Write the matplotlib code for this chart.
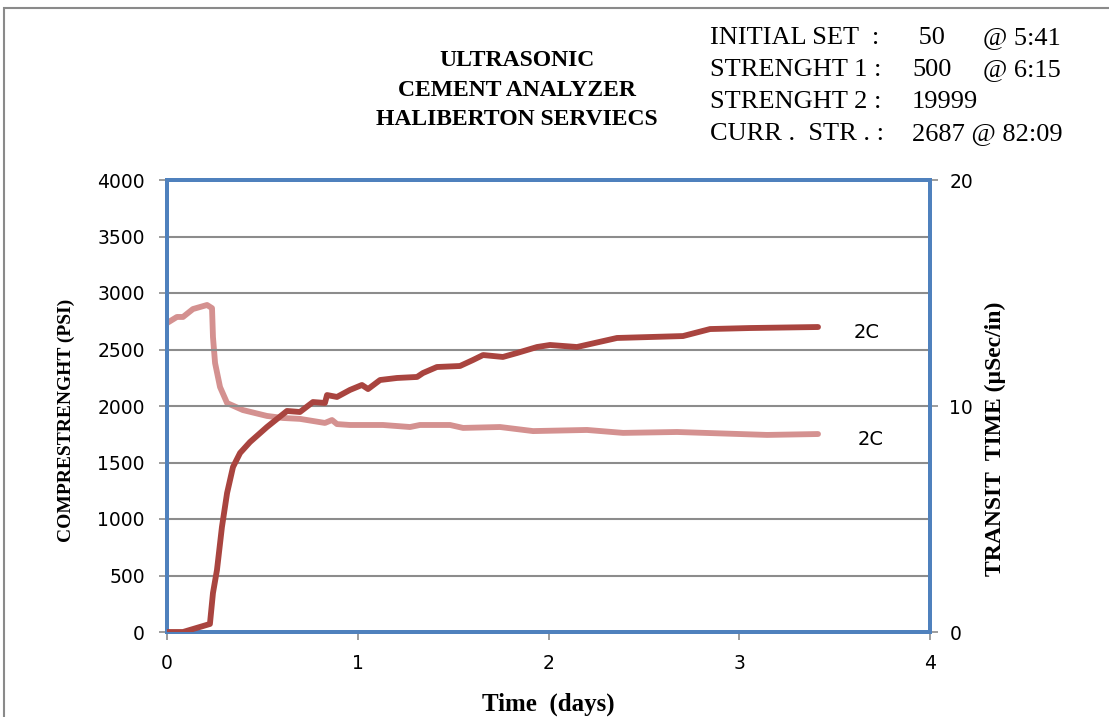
import matplotlib.pyplot as plt
from matplotlib.patches import Rectangle

# Compressive strength (psi) vs time (days)
strength_days = [0, 0.084, 0.225, 0.241, 0.262, 0.288, 0.315, 0.346, 0.383, 0.435,
                 0.524, 0.629, 0.697, 0.765, 0.828, 0.839, 0.891, 0.959, 1.022, 1.054,
                 1.117, 1.206, 1.311, 1.342, 1.415, 1.536, 1.604, 1.657, 1.761, 1.835,
                 1.940, 2.008, 2.149, 2.359, 2.705, 2.847, 3.056, 3.413]
strength_psi = [0, 0, 71, 345, 549, 929, 1230, 1460, 1584, 1681,
                1814, 1956, 1947, 2035, 2027, 2097, 2080, 2142, 2186, 2150,
                2230, 2248, 2257, 2292, 2345, 2354, 2407, 2451, 2434, 2469,
                2522, 2540, 2522, 2602, 2619, 2681, 2690, 2699]

# Transit time (uSec/in) vs time (days)
transit_days = [0, 0.052, 0.084, 0.136, 0.210, 0.236, 0.241, 0.252, 0.278, 0.315,
                0.398, 0.524, 0.608, 0.697, 0.828, 0.865, 0.891, 0.959, 1.132, 1.274,
                1.326, 1.484, 1.552, 1.746, 1.919, 2.202, 2.391, 2.674, 3.146, 3.413]
transit_time = [13.67, 13.94, 13.94, 14.29, 14.47, 14.33, 13.05, 11.90, 10.84, 10.13,
                9.82, 9.56, 9.47, 9.43, 9.25, 9.38, 9.20, 9.16, 9.16, 9.07,
                9.16, 9.16, 9.03, 9.07, 8.89, 8.94, 8.81, 8.85, 8.72, 8.76]

title_lines = "ULTRASONIC\nCEMENT ANALYZER\nHALIBERTON SERVIECS"
info_names = ["INITIAL SET  :", "STRENGHT 1 :", "STRENGHT 2 :", "CURR .  STR . :"]
info_values = [" 50", "500", "19999", "2687 @ 82:09"]
info_times = ["@ 5:41", "@ 6:15", "", ""]

DARK_RED = "#A9443F"
PINK = "#D49190"
BLUE = "#4F81BD"
GRID = "#8C8C8C"

W, H = 1109, 717
fig = plt.figure(figsize=(W / 100, H / 100), dpi=100)
fig.patches.append(Rectangle((4 / W, -0.1), 1.2, 1 - 8 / H + 0.1, transform=fig.transFigure,
                             fill=False, edgecolor="#8A8A8A", linewidth=1.5))

ax = fig.add_axes([167 / W, 1 - 632 / H, (930 - 167) / W, (632 - 180) / H])
ax2 = ax.twinx()

ax.set_xlim(0, 4)
ax.set_ylim(0, 4000)
ax2.set_ylim(0, 20)
ax.set_xticks(range(0, 5))
ax.set_yticks(range(0, 4001, 500))
ax2.set_yticks([0, 10, 20])
ax.yaxis.grid(True, color=GRID, linewidth=1.5)
ax.set_axisbelow(True)

ax2.plot(transit_days, transit_time, color=PINK, linewidth=4.2, solid_capstyle="round",
         solid_joinstyle="round")
ax.plot(strength_days, strength_psi, color=DARK_RED, linewidth=4.2, solid_capstyle="round",
        solid_joinstyle="round", zorder=5)
ax.set_zorder(ax2.get_zorder() + 1)
ax.patch.set_visible(False)

for a in (ax, ax2):
    for s in a.spines.values():
        s.set_color(BLUE)
        s.set_linewidth(2.8)
    a.tick_params(colors=GRID, labelcolor="black", labelsize=13.5, length=6, width=1.2)
ax.tick_params(axis="x", pad=10)
ax.tick_params(axis="y", pad=10)
ax2.tick_params(axis="y", pad=8)

serif = "Liberation Serif"
ax.set_ylabel("COMPRESTRENGHT (PSI)", family=serif, fontweight="bold", fontsize=14)
ax2.set_ylabel("TRANSIT  TIME (\u00b5Sec/in)", family=serif, fontweight="bold", fontsize=17)
ax.yaxis.set_label_coords(-0.121, 0.469)
ax2.yaxis.set_label_coords(1.072, 0.427)
ax.set_xlabel("Time  (days)", family=serif, fontweight="bold", fontsize=18, va="center")
ax.xaxis.set_label_coords(0.5, -0.159)

ax.text(3.6, strength_psi[-1] - 50, "2C", fontsize=14, va="center", ha="left")
ax2.text(3.62, transit_time[-1] - 0.25, "2C", fontsize=14, va="center", ha="left")

fig.text(517 / W, 1 - 90 / H, title_lines, family=serif, fontweight="bold", fontsize=17,
         ha="center", va="center", linespacing=1.55)

for i in range(4):
    y = 1 - (38 + 32 * i) / H
    fig.text(710 / W, y, info_names[i], family=serif, fontsize=19, va="center")
    fig.text(912 / W, y, info_values[i], family=serif, fontsize=19, va="center")
    fig.text(983 / W, y, info_times[i], family=serif, fontsize=19, va="center")

fig.savefig("out.png", dpi=100)
